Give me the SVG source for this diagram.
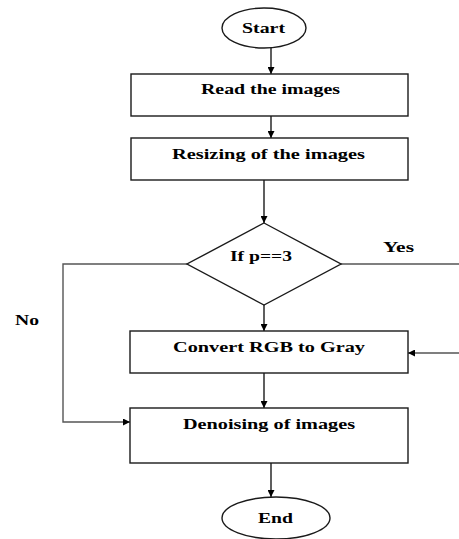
<svg xmlns="http://www.w3.org/2000/svg" width="459" height="539" viewBox="0 0 459 539">
<defs>
<marker id="ah" viewBox="0 0 10 10" refX="10" refY="5" markerWidth="7" markerHeight="7" markerUnits="userSpaceOnUse" orient="auto">
<path d="M0,0 L10,5 L0,10 z" fill="#000"/>
</marker>
<style>
.box{fill:#fff;stroke:#1a1a1a;stroke-width:1.4}
.ln{fill:none;stroke:#1a1a1a;stroke-width:1.4}
.gl{fill:none;stroke:#555;stroke-width:1.4}
.t{font-family:"Liberation Serif","Times New Roman",serif;font-weight:bold;font-size:15px;fill:#000}
</style>
</defs>
<rect width="459" height="539" fill="#fff"/>
<g id="connectors">
<line class="ln" x1="271" y1="48" x2="271" y2="74" marker-end="url(#ah)"/>
<line class="ln" x1="271" y1="116" x2="271" y2="138" marker-end="url(#ah)"/>
<line class="ln" x1="264" y1="180" x2="264" y2="223" marker-end="url(#ah)"/>
<line class="ln" x1="264" y1="305" x2="264" y2="331" marker-end="url(#ah)"/>
<line class="ln" x1="264" y1="373" x2="264" y2="408" marker-end="url(#ah)"/>
<line class="ln" x1="271" y1="463" x2="271" y2="497" marker-end="url(#ah)"/>
<polyline class="gl" points="187,264 63,264 63,422 130,422" marker-end="url(#ah)"/>
<line class="gl" x1="341" y1="264" x2="459" y2="264"/>
<line class="gl" x1="459" y1="353" x2="408" y2="353" marker-end="url(#ah)"/>
<text class="t" x="383" y="252" textLength="31" lengthAdjust="spacingAndGlyphs">Yes</text>
<text class="t" x="15" y="325" textLength="24" lengthAdjust="spacingAndGlyphs">No</text>
</g>
<g id="start">
<ellipse class="box" cx="264" cy="28" rx="42" ry="20"/>
<text class="t" x="242" y="33" textLength="43" lengthAdjust="spacingAndGlyphs">Start</text>
</g>
<g id="read">
<rect class="box" x="131" y="74" width="277" height="42"/>
<text class="t" x="201" y="94" textLength="139" lengthAdjust="spacingAndGlyphs">Read the images</text>
</g>
<g id="resize">
<rect class="box" x="131" y="138" width="277" height="42"/>
<text class="t" x="172" y="159" textLength="193" lengthAdjust="spacingAndGlyphs">Resizing of the images</text>
</g>
<g id="decision">
<polygon class="box" points="264,223 341,264 264,305 187,264"/>
<text class="t" x="230" y="261" textLength="62" lengthAdjust="spacingAndGlyphs">If p==3</text>
</g>
<g id="convert">
<rect class="box" x="130" y="331" width="278" height="42"/>
<text class="t" x="173" y="352" textLength="192" lengthAdjust="spacingAndGlyphs">Convert RGB to Gray</text>
</g>
<g id="denoise">
<rect class="box" x="130" y="408" width="278" height="55"/>
<text class="t" x="183" y="429" textLength="172" lengthAdjust="spacingAndGlyphs">Denoising of images</text>
</g>
<g id="end">
<ellipse class="box" cx="276" cy="518" rx="54" ry="21"/>
<text class="t" x="258" y="523" textLength="35" lengthAdjust="spacingAndGlyphs">End</text>
</g>
</svg>
